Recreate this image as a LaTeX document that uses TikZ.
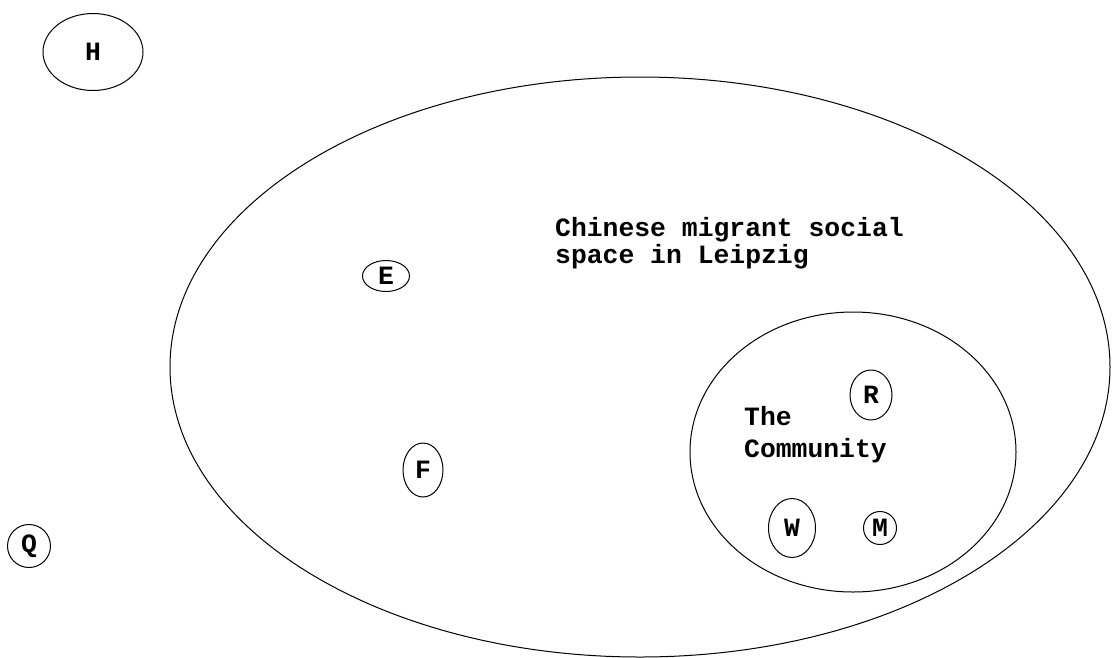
\documentclass[tikz,border=0pt]{standalone}
\usepackage{fontspec}
\newfontfamily\pixfont{Liberation Mono}
\usetikzlibrary{shapes.geometric}
\begin{document}
\begin{tikzpicture}[x=1pt,y=-1pt,
  every node/.style={font=\pixfont\bfseries\fontsize{26.4}{27}\selectfont},
  ring/.style={draw, ellipse, line width=1pt, inner sep=0pt},
  caption/.style={align=left, inner sep=0pt, anchor=base west}]
\useasboundingbox (0,0) rectangle (1112,657);

% social space and the community inside it
\node[ring, minimum width=940pt, minimum height=580pt] (space) at (640,367) {};
\node[ring, minimum width=326pt, minimum height=280pt] (community) at (853,452) {};

\node[caption] (spacetext) at (555,263) {Chinese migrant social\\space in Leipzig};
\node[caption, font=\pixfont\bfseries\fontsize{26.4}{32}\selectfont] (communitytext) at (744,457) {The\\Community};

% people
\node[ring, minimum width=100pt, minimum height=77pt] (H) at (93,52) {H};
\node[ring, minimum width=47pt, minimum height=31pt] (E) at (386,276) {E};
\node[ring, minimum width=40pt, minimum height=54pt] (F) at (423,470) {F};
\node[ring, minimum width=43pt, minimum height=43pt] (Q) at (29,546) {Q};
\node[ring, minimum width=42pt, minimum height=50pt] (R) at (871,395) {R};
\node[ring, minimum width=47pt, minimum height=59pt] (W) at (792,528) {W};
\node[ring, minimum width=33pt, minimum height=33pt] (M) at (880,528) {M};
\end{tikzpicture}
\end{document}
